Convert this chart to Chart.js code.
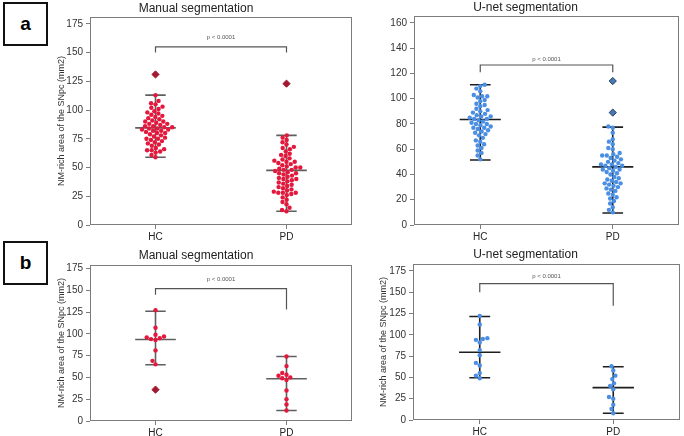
<!DOCTYPE html>
<html>
<head>
<meta charset="utf-8">
<script src="https://cdn.jsdelivr.net/npm/chart.js@4/dist/chart.umd.min.js"></script>
<style>
  body { margin: 0; width: 684px; height: 436px; overflow: hidden; background: #fff; position: relative; font-family: "Liberation Sans", Arial, sans-serif; }
  .panel { position: absolute; }
  .tag { position: absolute; left: 3px; width: 41px; height: 40px; border: 2px solid #111; font: bold 19px "Liberation Sans", Arial, sans-serif; display: flex; align-items: center; justify-content: center; }
</style>
</head>
<body>
<div class="tag" style="top:2px">a</div>
<div class="tag" style="top:241px">b</div>
<div class="panel" style="left:40px;top:0"><canvas id="c1" width="320" height="244"></canvas></div>
<div class="panel" style="left:370px;top:0"><canvas id="c2" width="314" height="244"></canvas></div>
<div class="panel" style="left:40px;top:244px"><canvas id="c3" width="320" height="196"></canvas></div>
<div class="panel" style="left:370px;top:244px"><canvas id="c4" width="314" height="196"></canvas></div>
<script>
// Values
const categories = ['HC', 'PD'];
const yLabel = 'NM-rich area of the SNpc (mm2)';

// a: manual segmentation
const manA_HC = [113, 108, 106, 105, 103, 102, 101, 99, 98, 97, 96, 95, 94, 93, 92, 91, 90, 90, 89, 88, 88, 87, 86, 86, 85, 85, 84, 84, 83, 83, 82, 82, 81, 80, 80, 79, 78, 77, 76, 75, 75, 74, 73, 72, 71, 70, 69, 67, 66, 65, 65, 64, 63, 61, 59];
const manA_PD = [78, 76, 74, 72, 70, 68, 67, 66, 64, 62, 61, 60, 58, 57, 56, 55, 55, 54, 53, 52, 51, 50, 50, 49, 48, 48, 47, 46, 45, 45, 44, 43, 42, 41, 40, 40, 39, 38, 37, 36, 35, 34, 33, 32, 31, 30, 29, 28, 28, 28, 27, 26, 24, 22, 20, 18, 15, 13, 12];
const manA_outHC = [131];
const manA_outPD = [123];
const manA_stats = [[59, 84.5, 113], [12, 47.5, 78]];   // low, mean, high
const manA_bracket = [150, 155, 150];                   // left leg, top, right leg

// a: U-net segmentation
const unetA_HC = [111, 110, 108, 106, 103, 102, 102, 101, 99, 98, 96, 95, 94, 92, 91, 90, 89, 88, 87, 86, 86, 85, 84, 84, 83, 82, 81, 80, 80, 79, 78, 77, 77, 76, 75, 74, 73, 72, 71, 69, 67, 66, 64, 63, 61, 59, 57, 55, 52];
const unetA_PD = [78, 77, 73, 68, 66, 64, 61, 60, 57, 56, 55, 55, 54, 53, 52, 51, 50, 49, 48, 48, 47, 47, 46, 45, 44, 44, 43, 42, 41, 40, 38, 37, 36, 35, 34, 33, 33, 32, 31, 30, 29, 28, 27, 25, 24, 22, 21, 19, 17, 14, 12, 10];
const unetA_outHC = [];
const unetA_outPD = [114, 89];
const unetA_stats = [[51.5, 83.5, 111], [9.5, 46, 77.5]];
const unetA_bracket = [121, 126.7, 121];

// b: manual segmentation
const manB_HC = [127, 107, 99, 97, 96, 95, 94, 93, 81, 69, 65];
const manB_PD = [74, 63, 55, 53, 52, 50, 49, 47, 35, 25, 19, 12];
const manB_outHC = [36];
const manB_outPD = [];
const manB_stats = [[64.5, 93.5, 126], [12, 48.5, 74]];
const manB_bracket = [145, 152, 128];

// b: U-net segmentation
const unetB_HC = [122, 112, 96, 95, 94, 91, 82, 76, 67, 64, 55, 52, 49];
const unetB_PD = [63, 58, 52, 48, 43, 40, 36, 27, 25, 18, 13, 8];
const unetB_outHC = [];
const unetB_outPD = [];
const unetB_stats = [[49.5, 79.5, 121.5], [8, 38, 62.5]];
const unetB_bracket = [150, 160, 134];

const FONT = '"Liberation Sans", Arial, sans-serif';
const RED = '#e4173c', RED_OUT = '#a3172f';
const BLUE = '#4a8fe3', BLUE_OUT = '#4679b8';

// beeswarm offsets (pixels -> x units)
function swarm(values, pxY, pxX, d) {
  const order = values.map((v, i) => i).sort((a, b) => values[a] - values[b]);
  const placed = [];
  const off = new Array(values.length).fill(0);
  for (const i of order) {
    const yp = values[i] * pxY;
    const near = placed.filter(p => Math.abs(p.y - yp) < d);
    const cands = [0];
    for (const p of near) {
      const dx = Math.sqrt(d * d - (p.y - yp) ** 2);
      cands.push(p.x - dx, p.x + dx);
    }
    cands.sort((a, b) => Math.abs(a) - Math.abs(b));
    let best = 0;
    for (const c of cands) {
      if (near.every(p => (p.x - c) ** 2 + (p.y - yp) ** 2 >= d * d - 0.01)) { best = c; break; }
    }
    placed.push({ x: best, y: yp });
    off[i] = best / pxX;
  }
  return off;
}

function statLines(stats) {
  const out = [];
  stats.forEach((s, c) => {
    const [lo, mean, hi] = s;
    out.push({ x: c - 0.155, y: mean }, { x: c + 0.155, y: mean }, { x: c, y: null });
    out.push({ x: c - 0.078, y: hi }, { x: c + 0.078, y: hi }, { x: c, y: null });
    out.push({ x: c - 0.078, y: lo }, { x: c + 0.078, y: lo }, { x: c, y: null });
    out.push({ x: c, y: lo }, { x: c, y: hi }, { x: c, y: null });
  });
  return out;
}

const framePlugin = {
  id: 'frame',
  afterDraw(chart, args, o) {
    const { ctx, chartArea: a, scales: { x, y } } = chart;
    ctx.save();
    ctx.strokeStyle = '#7c7c7c';
    ctx.lineWidth = 1;
    ctx.strokeRect(a.left + 0.5, a.top + 0.5, a.width - 1, a.height - 1);
    ctx.fillStyle = '#555';
    ctx.font = '6px ' + FONT;
    ctx.textAlign = 'center';
    ctx.textBaseline = 'middle';
    ctx.fillText('p < 0.0001', x.getPixelForValue(0.5), y.getPixelForValue(o.textY));
    ctx.restore();
  }
};

function makePanel(id, p) {
  const hc = p.hc.map(v => ({ x: 0, y: v }));
  const pd = p.pd.map(v => ({ x: 1, y: v }));
  const outs = p.outHC.map(v => ({ x: 0, y: v })).concat(p.outPD.map(v => ({ x: 1, y: v })));
  const br = p.bracket;
  const chart = new Chart(document.getElementById(id), {
    type: 'scatter',
    data: {
      datasets: [
        { data: hc, backgroundColor: p.color, borderWidth: 0, pointRadius: 2.2 },
        { data: pd, backgroundColor: p.color, borderWidth: 0, pointRadius: 2.2 },
        { data: outs, pointStyle: 'rectRot', backgroundColor: p.outColor, borderColor: p.outBorder, borderWidth: 1, pointRadius: 3.6 },
        { type: 'line', data: statLines(p.stats), borderColor: p.lineColor, borderWidth: 1.6, pointRadius: 0, spanGaps: false },
        { type: 'line', data: [{ x: 0, y: br[0] }, { x: 0, y: br[1] }, { x: 1, y: br[1] }, { x: 1, y: br[2] }],
          borderColor: '#555', borderWidth: 1.2, pointRadius: 0 }
      ]
    },
    options: {
      responsive: false,
      animation: false,
      layout: { padding: { left: 0, right: p.padRight, top: 0, bottom: 0 } },
      plugins: {
        legend: { display: false },
        tooltip: { enabled: false },
        title: { display: true, text: p.title, color: '#222', font: { family: FONT, size: 12, weight: 'normal' },
                 padding: { top: p.titleTop, bottom: p.titleBottom } },
        frame: { textY: p.textY }
      },
      scales: {
        x: {
          type: 'linear', min: -0.5, max: 1.5,
          afterBuildTicks: s => { s.ticks = [{ value: 0 }, { value: 1 }]; },
          afterFit: s => { s.height = p.xH; },
          ticks: { callback: v => categories[v], color: '#222', font: { family: FONT, size: 10 }, padding: 2 },
          grid: { drawOnChartArea: false, drawTicks: true, tickLength: 4, color: '#7c7c7c' },
          border: { display: false }
        },
        y: {
          min: 0, max: p.yMax,
          afterFit: s => { s.width = p.yW; },
          ticks: { stepSize: p.step, includeBounds: false, color: '#333', font: { family: FONT, size: 10 }, padding: 3 },
          grid: { drawOnChartArea: false, drawTicks: true, tickLength: 4, color: '#7c7c7c' },
          border: { display: false },
          title: { display: p.showYLabel, text: yLabel, color: '#333', font: { family: FONT, size: 9 },
                   padding: { top: p.yTitlePad, bottom: 0 } }
        }
      }
    },
    plugins: [framePlugin]
  });
  // lay the points out as a swarm using the chart's own scales
  const xs = chart.scales.x, ys = chart.scales.y;
  const pxX = Math.abs(xs.getPixelForValue(1) - xs.getPixelForValue(0));
  const pxY = Math.abs(ys.getPixelForValue(1) - ys.getPixelForValue(0));
  const oh = swarm(p.hc, pxY, pxX, 4.6);
  const op = swarm(p.pd, pxY, pxX, 4.6);
  chart.data.datasets[0].data = p.hc.map((v, i) => ({ x: oh[i], y: v }));
  chart.data.datasets[1].data = p.pd.map((v, i) => ({ x: 1 + op[i], y: v }));
  chart.update('none');
  return chart;
}

makePanel('c1', {
  title: 'Manual segmentation', hc: manA_HC, pd: manA_PD, outHC: manA_outHC, outPD: manA_outPD,
  stats: manA_stats, bracket: manA_bracket, textY: 163, color: RED, outColor: RED_OUT, outBorder: RED_OUT, lineColor: '#5f5f5f',
  yMax: 181, step: 25, yW: 50, xH: 19, padRight: 8, titleTop: 1, titleBottom: 1.6, showYLabel: true, yTitlePad: 16
});
makePanel('c2', {
  title: 'U-net segmentation', hc: unetA_HC, pd: unetA_PD, outHC: unetA_outHC, outPD: unetA_outPD,
  stats: unetA_stats, bracket: unetA_bracket, textY: 131, color: BLUE, outColor: BLUE_OUT, outBorder: '#2a3c55', lineColor: '#1e1e1e',
  yMax: 165.5, step: 20, yW: 44, xH: 19, padRight: 3, titleTop: 0.5, titleBottom: 1.1, showYLabel: false, yTitlePad: 0
});
makePanel('c3', {
  title: 'Manual segmentation', hc: manB_HC, pd: manB_PD, outHC: manB_outHC, outPD: manB_outPD,
  stats: manB_stats, bracket: manB_bracket, textY: 162, color: RED, outColor: RED_OUT, outBorder: RED_OUT, lineColor: '#5f5f5f',
  yMax: 179, step: 25, yW: 50, xH: 19, padRight: 8, titleTop: 4, titleBottom: 2.6, showYLabel: true, yTitlePad: 16
});
makePanel('c4', {
  title: 'U-net segmentation', hc: unetB_HC, pd: unetB_PD, outHC: unetB_outHC, outPD: unetB_outPD,
  stats: unetB_stats, bracket: unetB_bracket, textY: 169, color: BLUE, outColor: BLUE_OUT, outBorder: '#2a3c55', lineColor: '#1e1e1e',
  yMax: 183, step: 25, yW: 43, xH: 20, padRight: 3, titleTop: 3.6, titleBottom: 2, showYLabel: true, yTitlePad: 8.5
});
</script>
</body>
</html>
